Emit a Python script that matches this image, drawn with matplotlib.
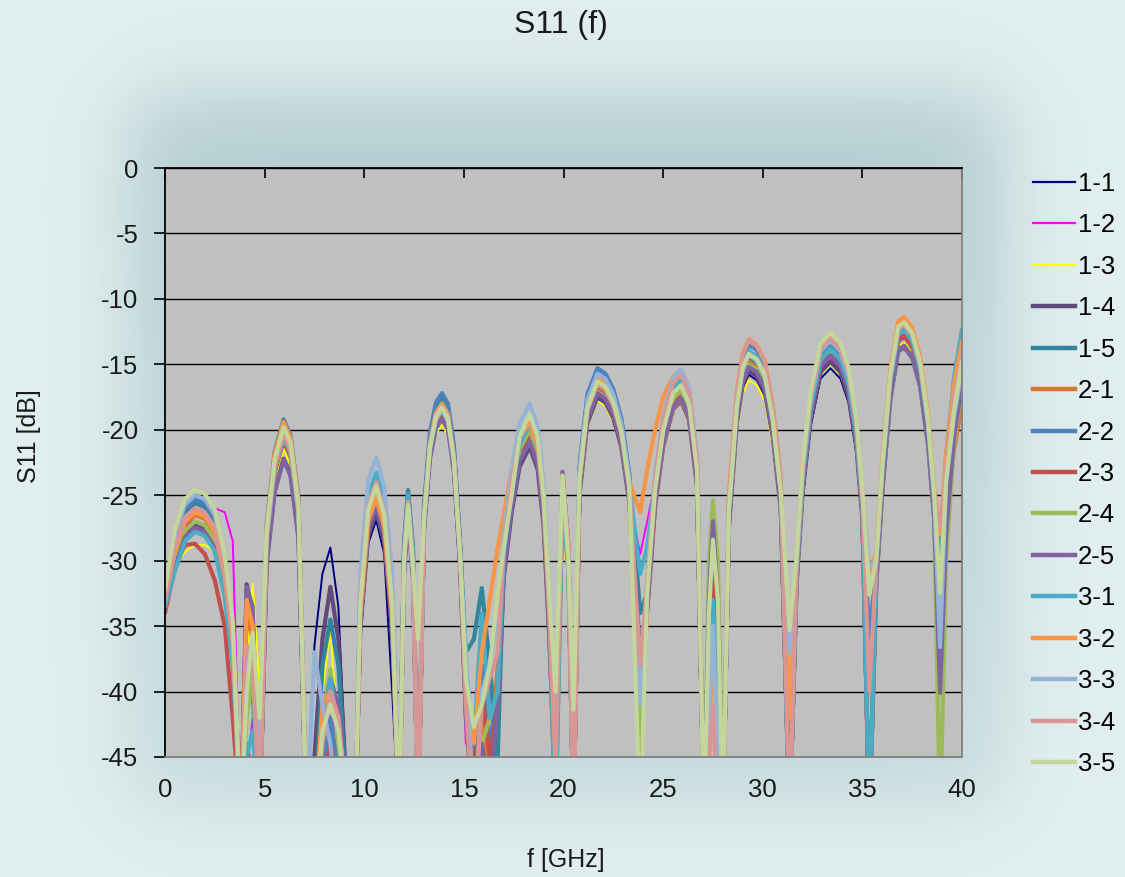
import numpy as np
import matplotlib
matplotlib.use('Agg')
import matplotlib.pyplot as plt
from matplotlib.lines import Line2D

plt.rcParams['font.family'] = ['Liberation Sans', 'DejaVu Sans']
plt.rcParams['axes.unicode_minus'] = False

# frequency points [GHz], shared by every curve
freq = [
    0.0, 0.5, 1.0, 1.5, 2.0, 2.5, 3.0, 3.4, 3.8,
    4.1, 4.4, 4.75,
    5.1, 5.5, 5.95, 6.3, 6.7, 7.1,
    7.5, 7.9, 8.3, 8.7, 9.2,
    9.55, 9.8, 10.2, 10.6, 11.0, 11.4, 11.75,
    12.0, 12.2, 12.45, 12.7,
    13.0, 13.3, 13.6, 13.9, 14.2, 14.5, 14.8,
    15.1, 15.5, 15.9, 16.3, 16.7,
    17.0, 17.4, 17.8, 18.3, 18.7, 19.0, 19.3,
    19.6, 19.95, 20.25, 20.5,
    20.8, 21.2, 21.7, 22.1, 22.5, 22.9, 23.3, 23.85,
    24.2, 24.6, 25.0, 25.5, 25.9, 26.3, 26.7, 27.05,
    27.3, 27.5, 27.75,
    28.0, 28.3, 28.7, 29.0, 29.3, 29.7, 30.1, 30.5, 30.9, 31.35,
    31.7, 32.0, 32.4, 32.9, 33.4, 33.9, 34.3, 34.7, 35.0, 35.35,
    35.7, 36.0, 36.4, 36.8, 37.1, 37.5, 37.9, 38.3, 38.6, 38.9,
    39.2, 39.6, 40.0,
]

# S11 [dB] (values below -45 fall outside the plot)
s11_1_1 = [
    -33, -29, -27.3, -27.2, -27.6, -28.8, -32, -37, -50,
    -48, -46, -50,
    -29, -23.5, -21, -22.2, -27, -50,
    -36.5, -31, -29, -33.5, -50,
    -50, -36, -28.7, -26.9, -29.5, -40, -50,
    -31, -27, -31.5, -50,
    -27.5, -22, -19.7, -19, -19.8, -23, -30,
    -42, -50, -45, -50, -45,
    -31.4, -26.4, -22.9, -21.4, -23.1, -27.4, -36.4,
    -50, -26, -32, -50,
    -25.1, -19.6, -17.6, -18, -19.2, -21.4, -25.6, -50,
    -33.8, -25.8, -21.3, -18.4, -17.8, -19.2, -24.3, -50,
    -50, -32, -50,
    -50, -27.8, -19.8, -16.8, -15.8, -16.2, -17.4, -20.8, -26.3, -45,
    -32.3, -25.3, -19.8, -16.1, -15.3, -16.1, -17.9, -21.8, -27.3, -50,
    -31.3, -24.3, -17.3, -13.6, -13.3, -14.1, -16.3, -20.8, -26.3, -30,
    -25, -19.5, -16.5,
]
s11_1_2 = [
    -33, -29.5, -27.5, -26.6, -26.2, -26.0, -26.3, -28.5, -50,
    -46, -42, -50,
    -29, -23.5, -21, -22.2, -27, -50,
    -50, -45, -41, -44, -50,
    -50, -34.5, -27.3, -25.5, -27.7, -34.5, -50,
    -30.5, -26.5, -31, -50,
    -27.5, -22, -19.7, -19, -19.8, -23, -30,
    -44, -42, -38, -39.7, -44,
    -30.5, -25.5, -22, -20.5, -22.2, -26.5, -35.5,
    -50, -25, -31, -50,
    -24.7, -19.2, -17.2, -17.6, -18.8, -21, -25.2, -29.5,
    -27, -24, -20.8, -17.9, -17.3, -18.7, -23.8, -50,
    -45, -30, -45,
    -50, -27.3, -19.3, -16.3, -15.3, -15.7, -16.9, -20.3, -25.8, -50,
    -31.5, -24.5, -19, -15.3, -14.5, -15.3, -17.1, -21, -26.5, -50,
    -31, -24, -17, -13.3, -13, -13.8, -16, -20.5, -26, -30,
    -25, -19.5, -16.8,
]
s11_1_3 = [
    -33, -30.5, -29.3, -28.8, -28.8, -29.3, -32, -36, -50,
    -38, -31.8, -40,
    -29.5, -24, -21.5, -22.7, -27.5, -50,
    -50, -40, -35.3, -44, -50,
    -50, -35.5, -28.3, -26.5, -28.7, -35.5, -50,
    -31.5, -27.5, -32, -50,
    -28.1, -22.6, -20.3, -19.6, -20.4, -23.6, -30.6,
    -42, -50, -46, -42, -40,
    -30.5, -25.5, -22, -20.5, -22.2, -26.5, -35.5,
    -50, -26, -33, -50,
    -25.3, -19.8, -17.8, -18.2, -19.4, -21.6, -25.8, -45,
    -33.5, -25.5, -21, -18.1, -17.5, -18.9, -24, -50,
    -50, -33, -50,
    -50, -28.2, -20.2, -17.2, -16.2, -16.6, -17.8, -21.2, -26.7, -50,
    -32, -25, -19.5, -15.8, -15, -15.8, -17.6, -21.5, -27, -50,
    -31.3, -24.3, -17.3, -13.6, -13.3, -14.1, -16.3, -20.8, -26.3, -32,
    -26, -20, -17,
]
s11_1_4 = [
    -33, -30.3, -28, -27.3, -27.6, -28.8, -32.3, -37.3, -50,
    -31.8, -34, -50,
    -30.2, -24.7, -22.2, -23.4, -28.2, -50,
    -45, -36, -32, -36, -50,
    -50, -35.3, -28.1, -26.3, -28.5, -35.3, -50,
    -30.5, -26.5, -31, -50,
    -27.5, -22, -19.7, -19, -19.8, -23, -30,
    -40, -46, -43, -50, -42,
    -31.3, -26.3, -22.8, -21.3, -23, -27.3, -36.3,
    -48, -24, -30, -50,
    -25, -19.5, -17.5, -17.9, -19.1, -21.3, -25.5, -38,
    -33.8, -25.8, -21.3, -18.4, -17.8, -19.2, -24.3, -50,
    -35, -27.5, -34,
    -50, -27.5, -19.5, -16.5, -15.5, -15.9, -17.1, -20.5, -26, -50,
    -31.8, -24.8, -19.3, -15.6, -14.8, -15.6, -17.4, -21.3, -26.8, -50,
    -31.7, -24.7, -17.7, -14, -13.7, -14.5, -16.7, -21.2, -26.7, -40,
    -28, -20.5, -16.8,
]
s11_1_5 = [
    -33.5, -28.6, -26.3, -25.6, -25.9, -27.1, -30.6, -35.6, -50,
    -40, -38, -50,
    -28.5, -23, -20.5, -21.7, -26.5, -50,
    -50, -38, -34.5, -38, -50,
    -50, -32.6, -25.4, -23.6, -25.8, -32.6, -50,
    -28.6, -24.6, -29.1, -50,
    -26, -20.5, -18.2, -17.5, -18.3, -21.5, -28.5,
    -37, -36, -32.1, -38, -45,
    -30, -25, -21.5, -20, -21.7, -26, -35,
    -45, -24.5, -30, -50,
    -23, -17.5, -15.5, -15.9, -17.1, -19.3, -23.5, -34,
    -32.5, -24.5, -20, -17.1, -16.5, -17.9, -23, -50,
    -38, -31, -38,
    -50, -26.5, -18.5, -15.5, -14.5, -14.9, -16.1, -19.5, -25, -50,
    -31, -24, -18.5, -14.8, -14, -14.8, -16.6, -20.5, -26, -50,
    -30.8, -23.8, -16.8, -13.1, -12.8, -13.6, -15.8, -20.3, -25.8, -34,
    -26, -21, -17.5,
]
s11_2_1 = [
    -33, -29.5, -27.2, -26.5, -26.8, -28, -31.5, -36.5, -50,
    -34, -36, -50,
    -28.2, -22.7, -20.2, -21.4, -26.2, -50,
    -50, -46, -43, -45, -50,
    -50, -34.7, -27.5, -25.7, -27.9, -34.7, -50,
    -30, -26, -30.5, -50,
    -27, -21.5, -19.2, -18.5, -19.3, -22.5, -29.5,
    -41, -50, -42, -46, -38,
    -30.3, -25.3, -21.8, -20.3, -22, -26.3, -35.3,
    -46, -23.5, -29, -50,
    -24.3, -18.8, -16.8, -17.2, -18.4, -20.6, -24.8, -45,
    -33.7, -25.7, -21.2, -18.3, -17.7, -19.1, -24.2, -50,
    -36, -26.5, -32,
    -50, -26.8, -18.8, -15.8, -14.8, -15.2, -16.4, -19.8, -25.3, -44,
    -31, -24, -18.5, -14.8, -14, -14.8, -16.6, -20.5, -26, -50,
    -30.5, -23.5, -16.5, -12.8, -12.5, -13.3, -15.5, -20, -25.5, -31,
    -27, -21.5, -18,
]
s11_2_2 = [
    -33, -28.3, -26, -25.3, -25.6, -26.8, -30.3, -35.3, -50,
    -37, -40, -50,
    -27.2, -21.7, -19.2, -20.4, -25.2, -50,
    -50, -46, -42, -46, -50,
    -50, -32.5, -25.3, -23.5, -25.7, -32.5, -50,
    -28.8, -24.8, -29.3, -50,
    -25.7, -20.2, -17.9, -17.2, -18, -21.2, -28.2,
    -40, -45, -38, -44, -40,
    -29.8, -24.8, -21.3, -19.8, -21.5, -25.8, -34.8,
    -47, -24, -30, -50,
    -22.8, -17.3, -15.3, -15.7, -16.9, -19.1, -23.3, -40,
    -32, -24, -19.5, -16.6, -16, -17.4, -22.5, -50,
    -40, -30, -40,
    -50, -25.5, -17.5, -14.5, -13.5, -13.9, -15.1, -18.5, -24, -50,
    -30.5, -23.5, -18, -14.3, -13.5, -14.3, -16.1, -20, -25.5, -36,
    -30.3, -23.3, -16.3, -12.6, -12.3, -13.1, -15.3, -19.8, -25.3, -33,
    -24, -18, -14,
]
s11_2_3 = [
    -34, -30.5, -28.8, -28.7, -29.5, -31.5, -35, -42, -50,
    -44, -47, -50,
    -28.8, -23.3, -20.8, -22, -26.8, -50,
    -50, -47, -44, -47, -50,
    -50, -34, -26.8, -25, -27.2, -34, -50,
    -30.5, -26.5, -31, -50,
    -27.3, -21.8, -19.5, -18.8, -19.6, -22.8, -29.8,
    -42, -46, -40, -45, -41,
    -30.5, -25.5, -22, -20.5, -22.2, -26.5, -35.5,
    -50, -24.5, -31, -50,
    -24.5, -19, -17, -17.4, -18.6, -20.8, -25, -42,
    -33.2, -25.2, -20.7, -17.8, -17.2, -18.6, -23.7, -50,
    -40, -29, -38,
    -50, -27, -19, -16, -15, -15.4, -16.6, -20, -25.5, -50,
    -31.2, -24.2, -18.7, -15, -14.2, -15, -16.8, -20.7, -26.2, -50,
    -30.8, -23.8, -16.8, -13.1, -12.8, -13.6, -15.8, -20.3, -25.8, -29,
    -25, -19, -16.2,
]
s11_2_4 = [
    -33, -30, -27.7, -27, -27.3, -28.5, -32, -37, -50,
    -42, -38.5, -50,
    -28.6, -23.1, -20.6, -21.8, -26.6, -50,
    -50, -42, -38.3, -44, -50,
    -50, -33.8, -26.6, -24.8, -27, -33.8, -50,
    -30, -26, -30.5, -50,
    -27, -21.5, -19.2, -18.5, -19.3, -22.5, -29.5,
    -41, -47, -44, -42, -40,
    -30, -25, -21.5, -20, -21.7, -26, -35,
    -50, -25, -31, -50,
    -24.6, -19.1, -17.1, -17.5, -18.7, -20.9, -25.1, -44,
    -33, -25, -20.5, -17.6, -17, -18.4, -23.5, -50,
    -30, -25.4, -30,
    -50, -27, -19, -16, -15, -15.4, -16.6, -20, -25.5, -50,
    -31.2, -24.2, -18.7, -15, -14.2, -15, -16.8, -20.7, -26.2, -50,
    -31.6, -24.6, -17.6, -13.9, -13.6, -14.4, -16.6, -21.1, -26.6, -50,
    -30, -21, -16.5,
]
s11_2_5 = [
    -33, -30.5, -28.2, -27.5, -27.8, -29, -32.5, -37.5, -50,
    -32, -33.5, -50,
    -30.3, -24.8, -22.3, -23.5, -28.3, -50,
    -50, -43, -39, -41, -50,
    -50, -34.8, -27.6, -25.8, -28, -34.8, -50,
    -31, -27, -31.5, -50,
    -27.7, -22.2, -19.9, -19.2, -20, -23.2, -30.2,
    -42, -50, -44, -48, -41,
    -30.9, -25.9, -22.4, -20.9, -22.6, -26.9, -35.9,
    -48, -23.2, -29, -50,
    -24.7, -19.2, -17.2, -17.6, -18.8, -21, -25.2, -37,
    -33.6, -25.6, -21.1, -18.2, -17.6, -19, -24.1, -50,
    -33, -27, -33,
    -50, -27.2, -19.2, -16.2, -15.2, -15.6, -16.8, -20.2, -25.7, -50,
    -31.3, -24.3, -18.8, -15.1, -14.3, -15.1, -16.9, -20.8, -26.3, -50,
    -31.6, -24.6, -17.6, -13.9, -13.6, -14.4, -16.6, -21.1, -26.6, -40.1,
    -28, -20.5, -16.5,
]
s11_3_1 = [
    -33.5, -30.8, -28.5, -27.8, -28.1, -29.3, -32.8, -37.8, -50,
    -45, -43, -50,
    -28.5, -23, -20.5, -21.7, -26.5, -50,
    -50, -44, -39, -43, -50,
    -50, -32.3, -25.1, -23.3, -25.5, -32.3, -50,
    -29, -25, -29.5, -50,
    -26.5, -21, -18.7, -18, -18.8, -22, -29,
    -38, -44, -34, -42, -40,
    -29.6, -24.6, -21.1, -19.6, -21.3, -25.6, -34.6,
    -50, -25, -31, -50,
    -23.7, -18.2, -16.2, -16.6, -17.8, -20, -24.2, -31,
    -29, -24, -19.7, -16.8, -16.2, -17.6, -22.7, -50,
    -40, -33, -40,
    -50, -26, -18, -15, -14, -14.4, -15.6, -19, -24.5, -50,
    -30.8, -23.8, -18.3, -14.6, -13.8, -14.6, -16.4, -20.3, -25.8, -50,
    -30.4, -23.4, -16.4, -12.7, -12.4, -13.2, -15.4, -19.9, -25.4, -31,
    -22, -16, -12.3,
]
s11_3_2 = [
    -33, -29.3, -27, -26.3, -26.6, -27.8, -31.3, -36.3, -50,
    -33, -35, -50,
    -27.4, -21.9, -19.4, -20.6, -25.4, -50,
    -50, -41, -40, -42, -50,
    -50, -34.2, -27, -25.2, -27.4, -34.2, -50,
    -30, -26, -30.5, -50,
    -26.5, -21, -18.7, -18, -18.8, -22, -29,
    -40, -43.9, -37, -33, -29,
    -26.5, -23, -20.5, -19.5, -21.2, -25.5, -34.5,
    -45, -23.5, -29, -50,
    -23.5, -18, -16, -16.4, -17.6, -19.8, -24, -26.3,
    -23, -20, -17.5, -15.9, -15.5, -16.9, -22, -50,
    -44, -36, -44,
    -50, -25.1, -17.1, -14.1, -13.1, -13.5, -14.7, -18.1, -23.6, -42,
    -29.8, -22.8, -17.3, -13.6, -12.8, -13.6, -15.4, -19.3, -24.8, -31,
    -29.4, -22.4, -15.4, -11.7, -11.4, -12.2, -14.4, -18.9, -24.4, -28,
    -22, -16.5, -13.2,
]
s11_3_3 = [
    -33, -28, -25.7, -25, -25.3, -26.5, -30, -35, -50,
    -38, -36, -45,
    -28, -22.5, -20, -21.2, -26, -50,
    -37, -41, -44, -50, -50,
    -50, -31.1, -23.9, -22.1, -24.3, -31.1, -50,
    -30, -26, -31, -50,
    -27, -21.5, -19.2, -18.5, -19.3, -22.5, -29.5,
    -37, -50, -40, -38, -34,
    -28, -23, -19.5, -18, -19.7, -24, -33,
    -42, -24, -30, -50,
    -23.2, -17.7, -15.7, -16.1, -17.3, -19.5, -23.7, -41,
    -31.4, -23.4, -18.9, -16, -15.4, -16.8, -21.9, -50,
    -42, -35, -45,
    -50, -26.3, -18.3, -15.3, -14.3, -14.7, -15.9, -19.3, -24.8, -37,
    -30.2, -23.2, -17.7, -14, -13.2, -14, -15.8, -19.7, -25.2, -30.5,
    -30, -23, -16, -12.3, -12, -12.8, -15, -19.5, -25, -36.6,
    -24, -19, -15.5,
]
s11_3_4 = [
    -32.8, -29, -26.7, -26, -26.3, -27.5, -31, -36, -50,
    -36.5, -37, -50,
    -28.3, -22.8, -20.3, -21.5, -26.3, -50,
    -50, -44, -40, -42, -50,
    -50, -33, -25.8, -24, -26.2, -33, -50,
    -29.5, -25.5, -30, -50,
    -26.7, -21.2, -18.9, -18.2, -19, -22.2, -29.2,
    -41, -50, -41, -39, -37,
    -29, -24, -20.5, -19, -20.7, -25, -34,
    -46, -24, -29, -50,
    -24, -18.5, -16.5, -16.9, -18.1, -20.3, -24.5, -38,
    -31.8, -23.8, -19.3, -16.4, -15.8, -17.2, -22.3, -50,
    -45, -41, -50,
    -50, -25.2, -17.2, -14.2, -13.2, -13.6, -14.8, -18.2, -23.7, -50,
    -30, -23, -17.5, -13.8, -13, -13.8, -15.6, -19.5, -25, -40,
    -30, -23, -16, -12.3, -12, -12.8, -15, -19.5, -25, -27.5,
    -23, -17.5, -14.1,
]
s11_3_5 = [
    -32.2, -27.6, -25.3, -24.6, -24.9, -26.1, -29.6, -34.6, -50,
    -40, -35.5, -42,
    -27.8, -22.3, -19.8, -21, -25.8, -50,
    -50, -43, -41, -43, -50,
    -50, -33.3, -26.1, -24.3, -26.5, -33.3, -50,
    -30, -25.8, -30.5, -36,
    -26.8, -21.3, -19, -18.3, -19.1, -22.3, -29.3,
    -39, -42.7, -41, -38, -32.5,
    -29, -25, -20.5, -18.8, -20.5, -25, -33,
    -40, -23.5, -30, -41.4,
    -23.8, -18.3, -16.3, -16.7, -17.9, -20.1, -24.3, -50,
    -32.6, -24.6, -20.1, -17.2, -16.6, -18, -23.1, -50,
    -34, -28.4, -33,
    -50, -26.2, -18.2, -15.2, -14.2, -14.6, -15.8, -19.2, -24.7, -35.3,
    -29.6, -22.6, -17.1, -13.4, -12.6, -13.4, -15.2, -19.1, -24.6, -32.6,
    -29.8, -22.8, -15.8, -12.1, -11.8, -12.6, -14.8, -19.3, -24.8, -32.5,
    -24, -18.5, -14.8,
]

labels = ['1-1', '1-2', '1-3', '1-4', '1-5', '2-1', '2-2', '2-3',
          '2-4', '2-5', '3-1', '3-2', '3-3', '3-4', '3-5']
colors = ['#000080', '#FF00FF', '#FFFF00', '#604A7B', '#31859C',
          '#D9782D', '#4F81BD', '#C0504D', '#9BBB59', '#8064A2',
          '#4BACC6', '#F79646', '#95B3D7', '#DA9694', '#C3D69B']
curves = [s11_1_1, s11_1_2, s11_1_3, s11_1_4, s11_1_5,
          s11_2_1, s11_2_2, s11_2_3, s11_2_4, s11_2_5,
          s11_3_1, s11_3_2, s11_3_3, s11_3_4, s11_3_5]

W, H = 1125, 877
fig = plt.figure(figsize=(W / 100, H / 100), dpi=100)

# soft bluish shadow behind the plot area, strongest above it
yy, xx = np.mgrid[0:H, 0:W] + 0.5
wsoft = 50.0
sx = 0.25 * (1 + np.tanh((xx - 130) / wsoft)) * (1 + np.tanh((1005 - xx) / wsoft))
sy = 0.25 * (1 + np.tanh((yy - 95) / wsoft)) * (1 + np.tanh((805 - yy) / wsoft))
fade = 1 - 0.35 * np.clip((yy - 170) / 600, 0, 1)
shade = (sx * sy * fade)[..., None]
light = np.array([226, 239, 239]) / 255
dark = np.array([180, 205, 210]) / 255
bg_img = light * (1 - shade) + dark * shade
bg = fig.add_axes([0, 0, 1, 1])
bg.imshow(bg_img, aspect='auto', extent=[0, 1, 0, 1], interpolation='bilinear')
bg.axis('off')

ax = fig.add_axes([165 / W, 1 - 757 / H, (962 - 165) / W, (757 - 168) / H])
ax.set_facecolor('#C0C0C0')

for name, col, vals in zip(labels, colors, curves):
    lw = 1.4 if name in ('1-1', '1-2', '1-3') else 3.0
    ax.plot(freq, vals, color=col, lw=lw, label=name, solid_joinstyle='round',
            solid_capstyle='round')

ax.set_xlim(0, 40)
ax.set_ylim(-45, 0)
ax.set_xticks(np.arange(0, 41, 5))
ax.set_yticks(np.arange(-45, 1, 5))
ax.yaxis.grid(True, color='black', lw=1.0)
ax.set_axisbelow(True)

ax.tick_params(axis='x', top=True, bottom=False, labeltop=False, labelbottom=True,
               direction='in', length=7, width=1.2, pad=15, labelsize=18.5,
               labelcolor='#1a1a1a')
ax.tick_params(axis='y', left=True, direction='out', length=8, width=1.2, pad=11,
               labelsize=18.5, labelcolor='#1a1a1a')

for side in ('left', 'top'):
    ax.spines[side].set_color('black')
    ax.spines[side].set_linewidth(1.3)
for side in ('right', 'bottom'):
    ax.spines[side].set_color('#808080')
    ax.spines[side].set_linewidth(1.3)

fig.text(561 / W, 1 - 25 / H, 'S11 (f)', ha='center', va='center', fontsize=23,
         color='#1a1a1a')
fig.text(566 / W, 1 - 860 / H, 'f [GHz]', ha='center', va='center', fontsize=18,
         color='#1a1a1a')
fig.text(29 / W, 1 - 436 / H, 'S11 [dB]', ha='center', va='center', fontsize=18,
         rotation=90, color='#1a1a1a')

handles = []
for name, col in zip(labels, colors):
    lw = 1.6 if name in ('1-1', '1-2', '1-3') else 3.2
    handles.append(Line2D([], [], color=col, lw=lw))
fig.legend(handles, labels, loc='center left', bbox_to_anchor=(1033 / W, 1 - 474 / H),
           frameon=False, fontsize=18.5, handlelength=1.65, handletextpad=0.1,
           labelspacing=0.68, borderpad=0, borderaxespad=0)

fig.savefig('out.png', dpi=100)
